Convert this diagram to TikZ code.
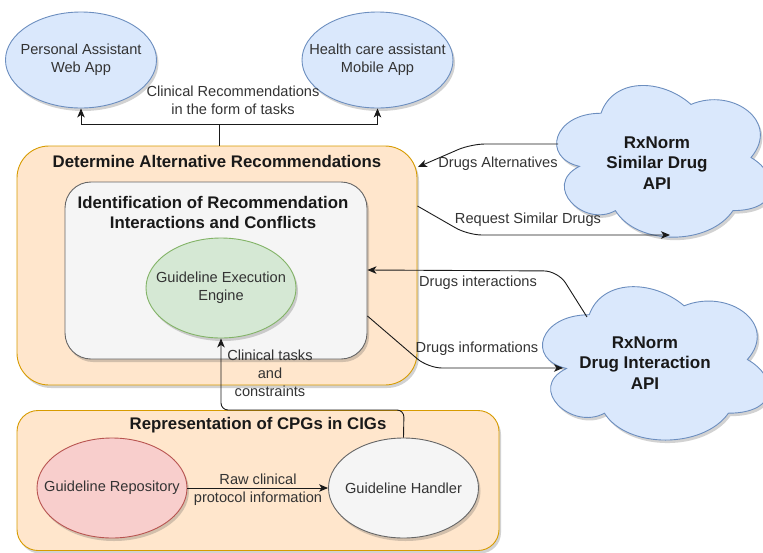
\documentclass[tikz,border=0pt]{standalone}
\usepackage{fontspec}
\setmainfont{Liberation Sans}
\usetikzlibrary{shapes.geometric,shadows,arrows.meta}
\definecolor{ofill}{HTML}{FFE6CC}
\definecolor{odraw}{HTML}{D79B00}
\definecolor{gfill}{HTML}{F5F5F5}
\definecolor{gdraw}{HTML}{666666}
\definecolor{grfill}{HTML}{D5E8D4}
\definecolor{grdraw}{HTML}{82B366}
\definecolor{bfill}{HTML}{DAE8FC}
\definecolor{bdraw}{HTML}{6C8EBF}
\definecolor{rfill}{HTML}{F8CECC}
\definecolor{rdraw}{HTML}{B85450}
\definecolor{txt}{HTML}{333333}
\definecolor{lne}{HTML}{1A1A1A}
\tikzset{
  shad/.style={drop shadow={shadow xshift=2pt,shadow yshift=-3pt,opacity=0.25,fill=black!70}},
  normtext/.style={font=\fontsize{14.6}{18}\selectfont,text=txt,align=center,inner sep=0pt},
  boldtext/.style={font=\fontsize{16.8}{20}\selectfont\bfseries,text=black!90,align=center,inner sep=0pt},
  ell/.style={ellipse,draw,line width=0.9pt,shad,inner sep=0pt},
  rbox/.style={rectangle,draw,line width=0.9pt,shad,inner sep=0pt},
  conn/.style={draw=lne,line width=0.9pt},
  arr/.style={conn,-{Stealth[length=9pt,width=7.5pt,inset=2.5pt]}},
  cloudstyle/.style={fill=bfill,draw=bdraw,line width=0.9pt},
}
\newcommand{\mxcloudpath}{(0.25,0.25) .. controls (0.05,0.25) and (0,0.5) .. (0.16,0.55) .. controls (0,0.66) and (0.18,0.9) .. (0.31,0.8) .. controls (0.4,1) and (0.7,1) .. (0.8,0.8) .. controls (1,0.8) and (1,0.6) .. (0.875,0.5) .. controls (1,0.3) and (0.8,0.1) .. (0.625,0.2) .. controls (0.5,0.05) and (0.3,0.05) .. (0.25,0.25) -- cycle}
\newcommand{\drawmxcloud}[4]{%
  \begin{scope}[shift={(#1+2,#2+3)},xscale=#3,yscale=#4]
    \fill[black!70,opacity=0.25] \mxcloudpath;
  \end{scope}
  \begin{scope}[shift={(#1,#2)},xscale=#3,yscale=#4]
    \path[cloudstyle] \mxcloudpath;
  \end{scope}}
\begin{document}
\begin{tikzpicture}[x=1pt,y=-1pt]
\useasboundingbox (0,0) rectangle (763,552);

% top apps
\node[ell,fill=bfill,draw=bdraw,minimum width=151pt,minimum height=96pt] (paw) at (81,60) {};
\node[normtext] (pawT) at (paw.center) {Personal Assistant\\Web App};
\node[ell,fill=bfill,draw=bdraw,minimum width=151pt,minimum height=96pt] (hca) at (377.5,60) {};
\node[normtext] (hcaT) at (hca.center) {Health care assistant\\Mobile App};

% determine alternative recommendations
\node[rbox,fill=ofill,draw=odraw,rounded corners=32pt,minimum width=400pt,minimum height=239pt] (dar) at (217,265.5) {};
\node[boldtext] (darT) at (217,161) {Determine Alternative Recommendations};
\node[rbox,fill=gfill,draw=gdraw,rounded corners=26pt,minimum width=302pt,minimum height=177pt] (irc) at (216,270.5) {};
\node[boldtext] (ircT) at (213,212) {Identification of Recommendation\\Interactions and Conflicts};
\node[ell,fill=grfill,draw=grdraw,minimum width=150pt,minimum height=100pt] (gee) at (221,288) {};
\node[normtext] (geeT) at (gee.center) {Guideline Execution\\Engine};

% representation box
\node[rbox,fill=ofill,draw=odraw,rounded corners=21pt,minimum width=482pt,minimum height=140pt] (rep) at (258,480.5) {};
\node[boldtext] (repT) at (258,425) {Representation of CPGs in CIGs};
\node[ell,fill=rfill,draw=rdraw,minimum width=150pt,minimum height=100pt] (gr) at (112,488) {};
\node[normtext] (grT) at (gr.center) {Guideline Repository};
\node[ell,fill=gfill,draw=gdraw,minimum width=150pt,minimum height=100pt] (gh) at (403.5,488) {};
\node[normtext] (ghT) at (gh.center) {Guideline Handler};

% clouds
\drawmxcloud{541}{69}{240}{177}
\node[boldtext,font=\fontsize{17}{20.5}\selectfont\bfseries] (sim) at (657,163) {RxNorm\\Similar Drug\\API};
\drawmxcloud{526}{270}{253}{179}
\node[boldtext,font=\fontsize{17}{20.5}\selectfont\bfseries] (inter) at (645,363) {RxNorm\\Drug Interaction\\API};

\coordinate (simW) at (558,144);
\coordinate (simS) at (670,235);
\coordinate (intNW) at (587,317);
\coordinate (intW) at (563,368);
\coordinate (split) at (219,124);
\coordinate (darAlt) at (418,167);

% connectors
\draw[conn] (dar.north -| split) -- (split);
\draw[arr] (split) -| (paw.south);
\draw[arr] (split) -| (hca.south);
\node[normtext] (lblCR) at (233,100) {Clinical Recommendations\\in the form of tasks};

\draw[arr,rounded corners=14pt] (simW) -- (471,144) -- (darAlt);
\node[normtext] (lblAlt) at (498,164) {Drugs Alternatives};

\draw[arr,rounded corners=14pt] (dar.east |- 0,206) -- (468,235) -- (simS);
\node[normtext] (lblReq) at (528,220) {Request Similar Drugs};

\draw[arr,rounded corners=14pt] (intNW) -- (558,271) -- (irc.east |- 0,270);
\node[normtext] (lblInt) at (478,283) {Drugs interactions};

\draw[arr,rounded corners=14pt] (irc.east |- 0,316) -- (428,368) -- (intW);
\node[normtext] (lblInf) at (477,349) {Drugs informations};

\draw[arr,rounded corners=7pt] (gh.north) -- (404,410) -| (gee.south);
\node[normtext] (lblCT) at (270,373) {Clinical tasks\\and\\constraints};

\draw[arr] (gr.east) -- (gh.west);
\node[normtext] (lblRaw) at (258,490) {Raw clinical\\protocol information};
\end{tikzpicture}
\end{document}
